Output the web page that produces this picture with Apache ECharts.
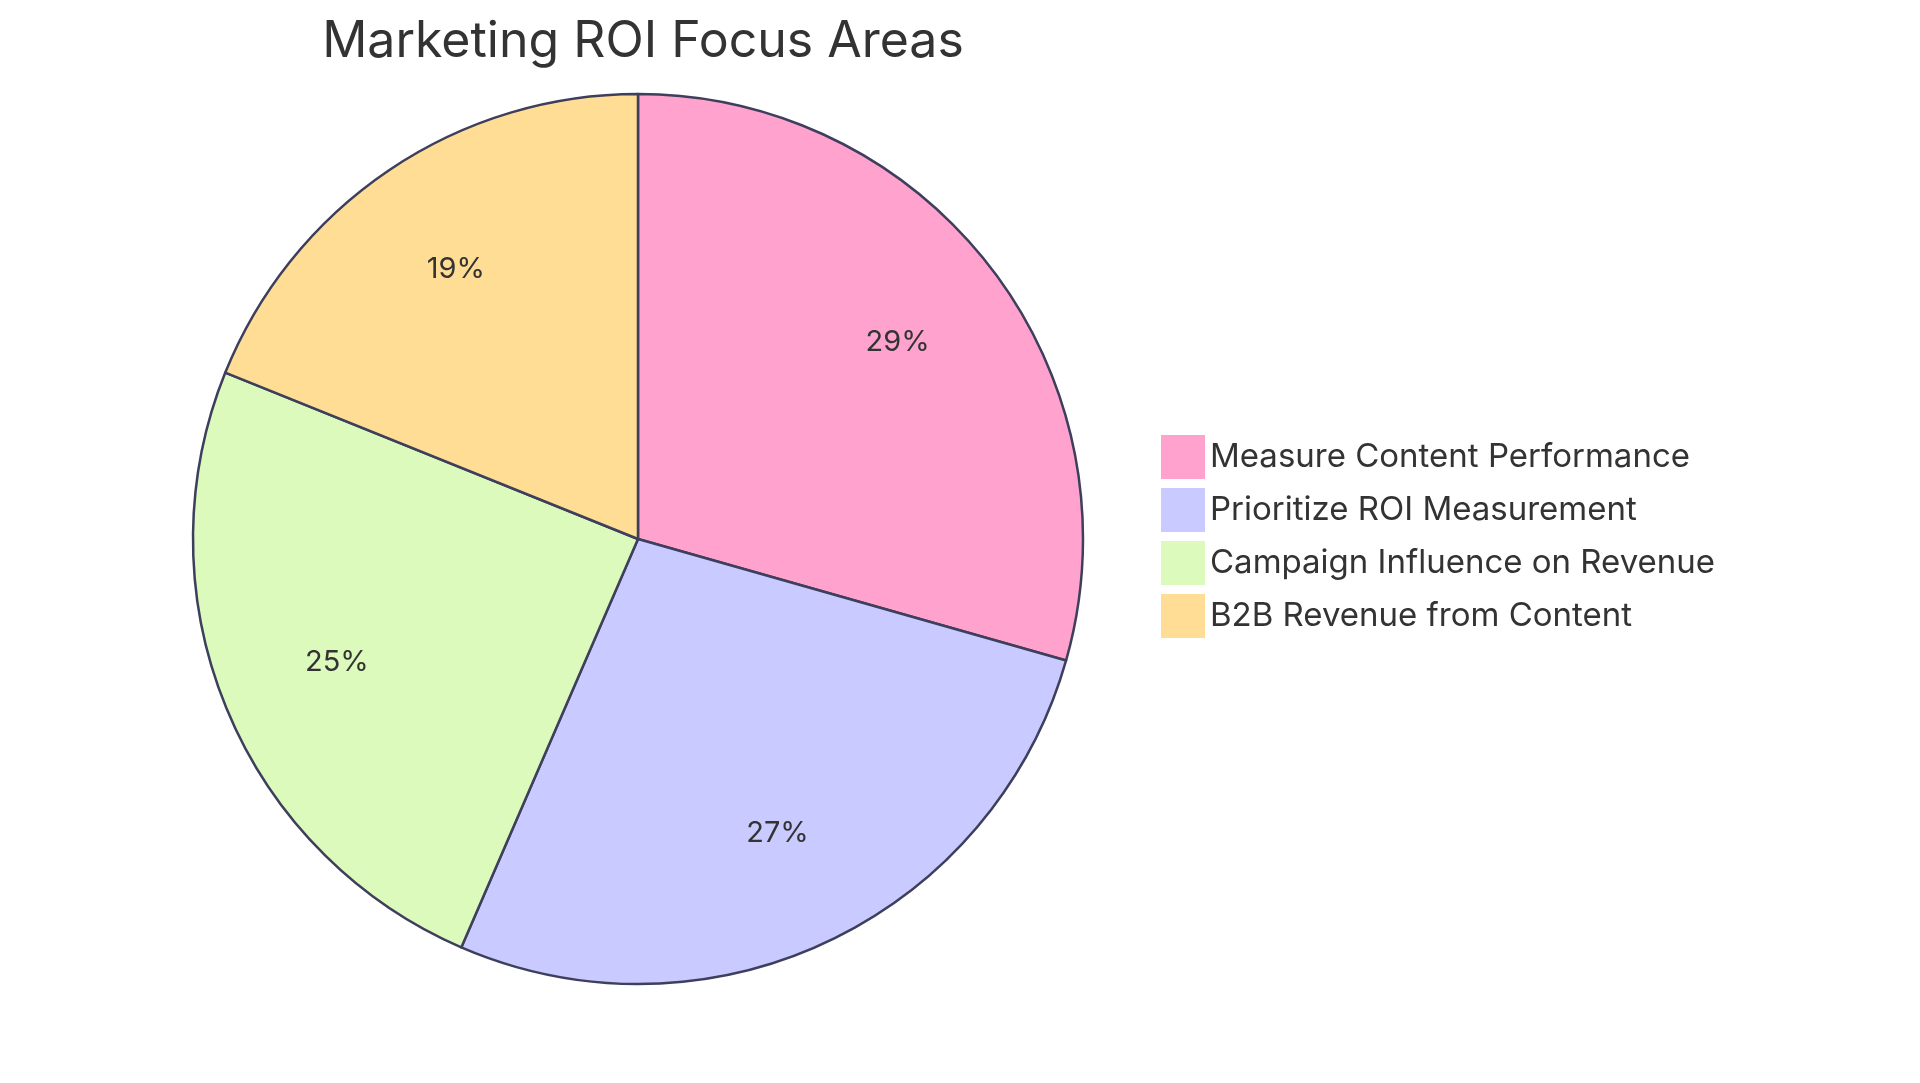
<!DOCTYPE html><html><head><meta charset="utf-8"><script src="https://cdn.jsdelivr.net/npm/echarts@6/dist/echarts.min.js"></script>
<style>html,body{margin:0;background:#fff}#c{width:1920px;height:1083px}</style></head><body><div id="c"></div><script>
const categories=["Measure Content Performance","Prioritize ROI Measurement","Campaign Influence on Revenue","B2B Revenue from Content"];
const values=[29.4,27.1,24.6,18.9];
const colors=["#ffa3ce","#c9caff","#dbfabb","#ffdd95"];
const ch=echarts.init(document.getElementById('c'));
ch.setOption({
 title:{text:"Marketing ROI Focus Areas",left:638,top:12,textAlign:'center',textStyle:{fontFamily:'Inter',fontWeight:'normal',fontSize:50,color:'#333'}},
 legend:{orient:'vertical',left:1156,top:430,itemWidth:44,itemHeight:44,itemGap:9,icon:'rect',itemStyle:{borderWidth:0},textStyle:{fontFamily:'Inter',fontSize:33,color:'#333'},data:categories},
 series:[{type:'pie',center:[638,539],radius:445,startAngle:90,clockwise:true,
  data:categories.map((n,i)=>({name:n,value:values[i],itemStyle:{color:colors[i]}})),
  itemStyle:{borderColor:'#3d3f5c',borderWidth:2.5},
  label:{show:false},labelLine:{show:false},emphasis:{disabled:true}},
  {type:'pie',center:[638,539],radius:[0,645],startAngle:90,clockwise:true,silent:true,legendHoverLink:false,
  data:categories.map((n,i)=>({name:n+' ',value:values[i],itemStyle:{color:'rgba(0,0,0,0)'}})),
  label:{position:'inside',formatter:p=>Math.round(p.percent)+'%',fontFamily:'Inter',fontSize:29,color:'#333'},
  labelLine:{show:false},emphasis:{disabled:true}}]
});
</script></body></html>
